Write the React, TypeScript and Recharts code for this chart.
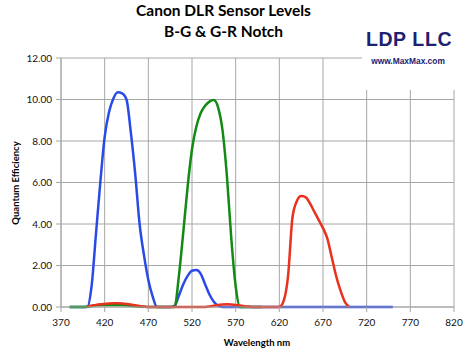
import React from 'react';
import { LineChart, Line, XAxis, YAxis, CartesianGrid } from 'recharts';

const wavelengths = [380,385,390,395,400,405,410,415,420,425,430,435,440,445,450,455,460,465,470,475,480,485,490,495,500,505,510,515,520,525,530,535,540,545,550,555,560,565,570,575,580,585,590,595,600,605,610,615,620,625,630,635,640,645,650,655,660,665,670,675,680,685,690,695,700,705,710,715,720,725,730,735,740,745,750];

const blue = [0,0,0,0,0,1.0,3.5,6.0,8.2,9.4,10.05,10.35,10.3,10.0,8.4,6.4,4.0,2.5,1.3,0.5,0,0,0,0,0.05,0.55,1.1,1.5,1.75,1.78,1.6,1.1,0.6,0.25,0.05,0,0,0,0,0,0,0,0,0,0,0,0,0,0,0,0,0,0,0,0,0,0,0,0,0,0,0,0,0,0,0,0,0,0,0,0,0,0,0,0];

const green = [0,0,0,0,0.02,0.05,0.08,0.1,0.1,0.1,0.1,0.1,0.1,0.08,0.06,0.04,0.02,0.01,0,0,0,0,0,0,0,1.5,3.6,5.8,7.6,8.7,9.35,9.7,9.9,9.97,9.6,8.5,6.3,3.3,1.0,0,0,0,0,0,0,null,null,null,null,null,null,null,null,null,null,null,null,null,null,null,null,null,null,null,null,null,null,null,null,null,null,null,null,null,null];

const red = [null,null,null,null,0.03,0.06,0.1,0.13,0.15,0.17,0.18,0.18,0.17,0.15,0.12,0.08,0.05,0.02,0,0,0,0,0,0,0,0,0,0,0,0,0,0,0.02,0.06,0.1,0.12,0.13,0.12,0.1,0.07,0.04,0.02,0,0,0,0,0,0,0,0.3,1.5,4.3,5.1,5.35,5.3,5.0,4.6,4.2,3.8,3.3,2.4,1.5,0.8,0.25,0,null,null,null,null,null,null,null,null,null,null];

const xTicks = [370,420,470,520,570,620,670,720,770,820];
const yTicks = [0,2,4,6,8,10,12];

const data = wavelengths.map((w, i) => ({ w, blue: blue[i], green: green[i], red: red[i] }));

const FONT = 'Lato, "Open Sans", sans-serif';

export default function App() {
  return (
    <div style={{ position: 'absolute', left: 0, top: 0, width: 467, height: 354, background: '#fff' }}>
      <LineChart width={467} height={354} data={data} margin={{ top: 58, right: 13, bottom: 17, left: 0 }}>
        <CartesianGrid stroke="#a6a6a6" strokeWidth={1} horizontalValues={yTicks} verticalValues={xTicks} />
        <XAxis dataKey="w" type="number" domain={[370, 820]} ticks={xTicks} interval={0} height={30}
          stroke="#a6a6a6" tickSize={5} tickMargin={7}
          tick={{ fill: '#111', fontSize: 10, fontFamily: FONT }} allowDataOverflow />
        <YAxis type="number" domain={[0, 12]} ticks={yTicks} interval={0} width={61}
          stroke="#a6a6a6" tickSize={5} tickMargin={4}
          tickFormatter={(v: number) => v.toFixed(2)}
          tick={{ fill: '#111', fontSize: 10, fontFamily: FONT }} />
        <Line dataKey="blue" type="monotone" stroke="#2a4ae6" strokeWidth={2.5} dot={false} isAnimationActive={false} connectNulls={false} />
        <Line dataKey="green" type="monotone" stroke="#128a14" strokeWidth={2.5} dot={false} isAnimationActive={false} connectNulls={false} />
        <Line dataKey="red" type="monotone" stroke="#e8321e" strokeWidth={2.5} dot={false} isAnimationActive={false} connectNulls={false} />
      </LineChart>
      <svg width={467} height={354} style={{ position: 'absolute', left: 0, top: 0, pointerEvents: 'none' }}>
        <text x={223.5} y={15.5} textAnchor="middle" fontFamily={FONT} fontWeight="bold" fontSize={15.5} fill="#000">Canon DLR Sensor Levels</text>
        <text x={223.5} y={37} textAnchor="middle" fontFamily={FONT} fontWeight="bold" fontSize={15.5} fill="#000">B-G &amp; G-R Notch</text>
        <rect x={362} y={24} width={97} height={66} fill="#fff" />
        <text x={409} y={45.5} textAnchor="middle" fontFamily='"Liberation Sans", Arial, sans-serif' fontWeight="bold" fontSize={19.5} fill="#1c2270" letterSpacing={0.6}>LDP LLC</text>
        <text x={408} y={64} textAnchor="middle" fontFamily='"Liberation Sans", Arial, sans-serif' fontWeight="bold" fontSize={8.4} fill="#1c2270">www.MaxMax.com</text>
        <text x={257} y={345.5} textAnchor="middle" fontFamily={FONT} fontWeight="bold" fontSize={9.5} fill="#000">Wavelength nm</text>
        <text transform="translate(18.5,183) rotate(-90)" textAnchor="middle" fontFamily={FONT} fontWeight="bold" fontSize={9.5} fill="#000">Quantum Efficiency</text>
      </svg>
    </div>
  );
}
